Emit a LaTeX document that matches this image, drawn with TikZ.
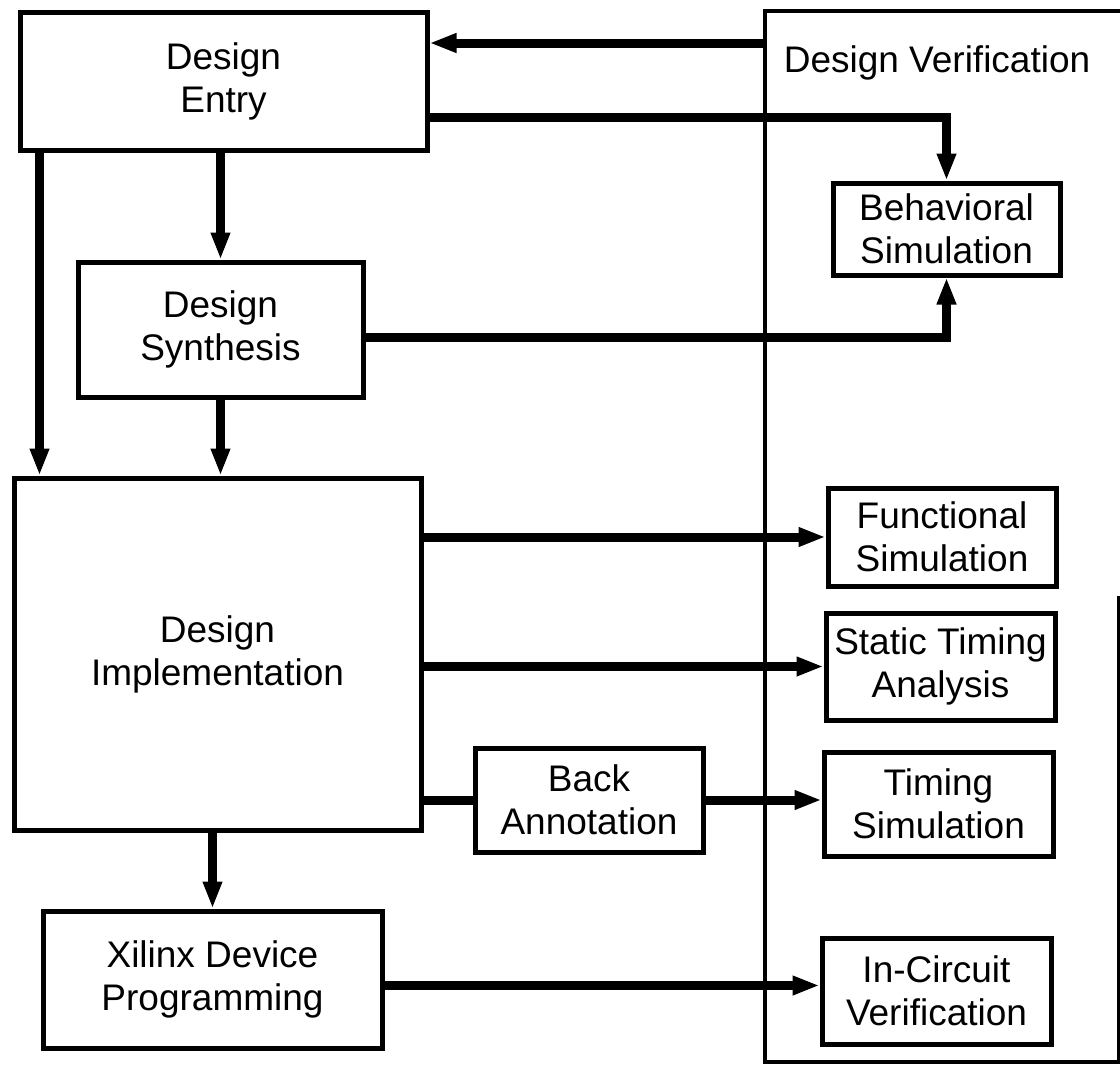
\documentclass[tikz,border=0pt]{standalone}
\usepackage{fontspec}
\setmainfont{Liberation Sans}
\usetikzlibrary{arrows.meta}
\begin{document}
\begin{tikzpicture}[x=1pt,y=-1pt,
  stage/.style={draw, line width=5pt, rectangle, inner sep=0pt, align=center,
                font=\fontsize{37}{43}\selectfont},
  flow/.style={line width=9pt, -{Triangle[length=27pt,width=18pt]}},
  link/.style={line width=9pt},
  frame/.style={line width=4.5pt},
  title/.style={font=\fontsize{37}{43}\selectfont, inner sep=0pt}]
\useasboundingbox (0,0) rectangle (1120,1068);

% Design flow stages
\node[stage, minimum width=407pt, minimum height=138pt] (entry) at (223.5,81) {Design\\Entry};
\node[stage, minimum width=285pt, minimum height=135pt] (synth) at (220.5,329.5) {Design\\Synthesis};
\node[stage, minimum width=407pt, minimum height=352pt] (impl) at (217.5,654) {Design\\Implementation};
\node[stage, minimum width=339pt, minimum height=137pt] (xil) at (212.5,979.5) {Xilinx Device\\Programming};
\node[stage, minimum width=228pt, minimum height=104pt] (back) at (589,800) {Back\\Annotation};

% Verification column
\draw[frame] (1120,11) -- (765,11) -- (765,1062) -- (1119,1062) -- (1119,596);
\node[title, anchor=base] (vtitle) at (937,72) {Design Verification};
\coordinate (vleft) at (765,43);

\node[stage, minimum width=227pt, minimum height=92pt] (beh) at (946.5,229) {Behavioral\\Simulation};
\node[stage, minimum width=228pt, minimum height=98pt] (func) at (942,537) {Functional\\Simulation};
\node[stage, minimum width=229pt, minimum height=107pt] (sta) at (940.5,666.5) {Static Timing\\Analysis};
\node[stage, minimum width=229pt, minimum height=104pt] (tim) at (938.5,804) {Timing\\Simulation};
\node[stage, minimum width=229pt, minimum height=106pt] (icv) at (936.5,991) {In-Circuit\\Verification};

% Helper points on box borders
\coordinate (lft) at ([xshift=22pt]entry.south west);
\coordinate (eb) at ([yshift=-36pt]entry.east);
\coordinate (et) at ([yshift=38pt]entry.east);
\coordinate (sb) at ([yshift=-7.5pt]synth.east);
\coordinate (xo) at ([yshift=-6pt]xil.east);

% Connectors
\draw[flow] (vleft) -- (et);
\draw[flow] (eb) -| (beh.north);
\draw[flow] (sb) -| (beh.south);
\draw[flow] (lft) -- (lft |- impl.north);
\draw[flow] (entry.south -| synth.north) -- (synth.north);
\draw[flow] (synth.south) -- (synth.south |- impl.north);
\draw[flow] (impl.east |- func.west) -- (func.west);
\draw[flow] (impl.east |- sta.west) -- (sta.west);
\draw[link] (impl.east |- back.west) -- (back.west);
\draw[flow] (back.east) -- (back.east -| tim.west);
\draw[flow] (impl.south -| xil.north) -- (xil.north);
\draw[flow] (xo) -- (xo -| icv.west);
\end{tikzpicture}
\end{document}
